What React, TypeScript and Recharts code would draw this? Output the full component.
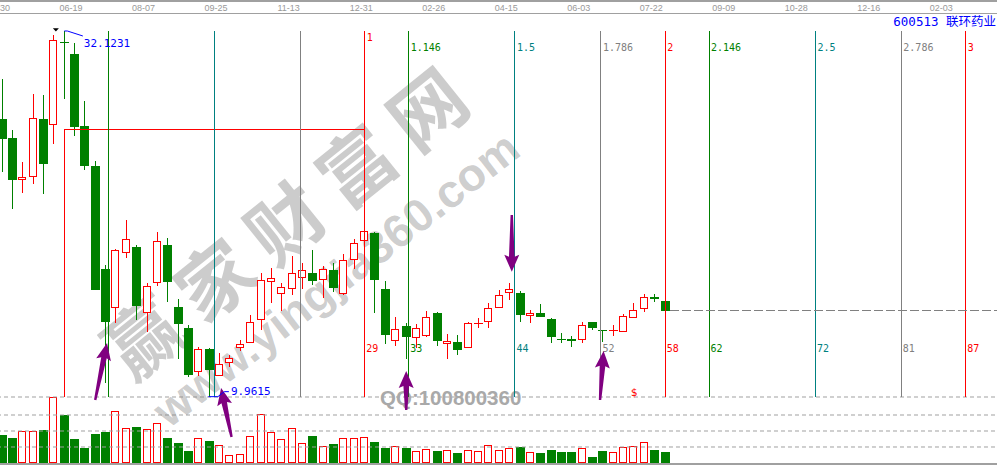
import React from 'react';
import { ComposedChart, Bar, XAxis, YAxis, ReferenceLine, ReferenceDot } from 'recharts';

// weekly candles, week 0 is the top week (32.1231)
const FIRST_WEEK = -6;
const LAST_SLOT = 90;

const opens = [
  26.79, 25.64, 23.11, 23.32, 26.79, 26.47, 31.45, 30.75, 26.36, 23.96, 17.7, 15.38, 18.71,
  19.03, 15.07, 16.89, 19.15, 15.4, 14.12, 11.5, 12.85, 11.26, 12.04, 12.97, 13.26, 14.65,
  16.95, 16.23, 16.5, 17.19, 17.45, 17.07, 17.64, 16.23, 18.29, 19.44, 19.9, 16.49, 13.39,
  14.23, 13.52, 13.66, 15.03, 13.19, 13.27, 12.95, 14.42, 14.53, 15.38, 16.29, 16.23, 14.89,
  15.03, 14.69, 13.44, 13.46, 13.44, 14.49, 13.98, 13.97, 13.92, 14.77, 15.32, 16.0, 15.76,
];
const highs = [
  29.21, 26.12, 24.18, 28.3, 28.24, 31.88, 32.1231, 31.38, 27.88, 24.24, 17.94, 18.91, 20.67,
  19.17, 16.83, 19.94, 19.58, 15.88, 14.3, 12.97, 12.93, 12.61, 12.49, 13.4, 14.91, 17.46,
  17.74, 16.83, 18.49, 18.08, 18.85, 17.86, 18.04, 18.61, 19.54, 20.55, 19.96, 16.99, 14.79,
  14.44, 14.36, 15.15, 15.09, 13.76, 13.7, 14.48, 14.71, 15.66, 16.43, 16.85, 16.38, 15.21,
  15.58, 14.7, 13.8, 13.64, 14.47, 14.5, 13.99, 14.32, 14.95, 15.64, 16.17, 16.17, 16.02,
];
const lows = [
  23.58, 21.34, 22.3, 22.85, 22.26, 25.26, 28.0, 25.78, 23.72, 16.42, 10.79, 14.44, 18.38,
  14.62, 13.9, 16.67, 15.72, 12.23, 11.17, 11.23, 9.9615, 11.22, 11.78, 12.75, 13.22, 14.0,
  15.66, 15.17, 16.12, 16.5, 16.71, 15.96, 16.32, 16.14, 17.7, 19.2, 15.05, 13.15, 13.05,
  12.24, 12.91, 13.6, 13.05, 12.23, 12.5, 12.93, 14.1, 14.1, 15.36, 15.8, 14.47, 14.41,
  14.76, 13.23, 13.19, 12.99, 13.23, 13.98, 13.29, 13.66, 13.9, 14.75, 15.07, 15.68, 14.77,
];
const closes = [
  25.58, 23.09, 23.27, 26.79, 24.08, 31.56, 31.43, 26.32, 23.96, 16.44, 14.5, 18.85, 19.5,
  15.47, 16.65, 19.38, 16.93, 14.38, 11.29, 12.83, 11.59, 11.92, 12.29, 13.15, 14.47, 17.01,
  17.13, 16.59, 17.44, 17.58, 16.99, 17.68, 16.56, 18.22, 19.26, 19.98, 17.05, 13.72, 14.06,
  13.59, 14.12, 14.73, 13.35, 13.33, 12.81, 14.42, 14.46, 15.32, 16.1, 16.43, 14.89, 15.01,
  14.77, 13.56, 13.42, 13.35, 14.29, 14.14, 13.97, 13.99, 14.83, 15.21, 16.0, 15.86, 15.17,
];
const volumes = [
  28, 25, 31.7, 31.7, 33, 65.7, 48, 24, 15, 29, 31, 51.7, 34.7, 36, 33.7, 39.7, 25, 20, 12,
  24.7, 22, 17.7, 7.7, 8.7, 26.7, 49, 30.7, 23.7, 34.7, 19.7, 27, 16.7, 19, 24.7, 24.7, 25.7,
  21, 15, 16.7, 15, 11.7, 13.7, 12, 12.7, 10, 12.7, 11.7, 17.7, 12.7, 14.7, 16, 10.7, 10, 13,
  11, 11, 15.3, 6, 12, 10.7, 15.7, 16.7, 20.7, 13, 11,
];

const dateTickWeeks = [-7, 0, 7, 14, 21, 28, 35, 42, 49, 56, 63, 70, 77, 84];
const dateLabels = [
  '04-30', '06-19', '08-07', '09-25', '11-13', '12-31', '02-26',
  '04-15', '06-03', '07-22', '09-09', '10-28', '12-16', '02-03',
];

const fibBase = 29;
const fibRatios = [0.146, 0.5, 0.786, 1, 1.146, 1.5, 1.786, 2, 2.146, 2.5, 2.786, 3];
const fibLabels = ['', '', '', '1', '1.146', '1.5', '1.786', '2', '2.146', '2.5', '2.786', '3'];
const fibCounts = [null, null, null, 29, 33, 44, 52, 58, 62, 72, 81, 87];

const guideLevel = 26.18;
const volGrid = [16, 32, 48, 66];

// hand drawn arrows: [week, price] tail -> tip
const arrowFrom = [[2.98, 9.76], [16.14, 7.52], [33.0, 9.15], [43.19, 20.97], [51.71, 9.76]];
const arrowTo = [[4.12, 13.21], [15.13, 10.49], [33.0, 11.52], [43.19, 17.53], [52.05, 12.73]];
const dollarWeek = 55;

const RED = '#ff0000';
const GREEN = '#008000';
const TEAL = '#008080';
const GRAY = '#808080';
const BLUE = '#0000ff';
const PURPLE = '#800080';
const MONO = "'DejaVu Sans Mono', monospace";
const SANS = "'Liberation Sans', Arial, sans-serif";

const SLOT = 10.36;
const SLOTS = LAST_SLOT - FIRST_WEEK + 1;
const CHART_W = SLOTS * SLOT;
const CHART_LEFT = 64.8 - (0 - FIRST_WEEK + 0.5) * SLOT;
const PRICE_MIN = 9.941;
const PRICE_MAX = 33.153;

const rows = Array.from({ length: SLOTS }, (_, k) => {
  const i = FIRST_WEEK + k;
  if (k >= opens.length) return { i };
  return {
    i,
    open: opens[k],
    high: highs[k],
    low: lows[k],
    close: closes[k],
    range: [lows[k], highs[k]],
    vol: volumes[k],
  };
});

const maxHigh = Math.max(...highs);
const minLow = Math.min(...lows);
const topWeek = FIRST_WEEK + highs.indexOf(maxHigh);
const lowWeek = FIRST_WEEK + lows.indexOf(minLow);
const lastWeek = FIRST_WEEK + opens.length - 1;
const lastClose = closes[closes.length - 1];

const fibColor = (r: number) => {
  const f = Math.round((r % 1) * 1000);
  if (f === 146) return GREEN;
  if (f === 500) return TEAL;
  if (f === 786) return GRAY;
  return RED;
};

const Candle = (props: any) => {
  const { x, y, width, height, payload } = props;
  if (!payload || payload.open == null || !isFinite(y)) return null;
  const { open, close, high, low } = payload;
  const c = Math.floor(x + width / 2);
  const wx = c + 0.5;
  const k = height / (high - low);
  const yo = y + (high - open) * k;
  const yc = y + (high - close) * k;
  const up = close >= open;
  const col = up ? RED : GREEN;
  const top = Math.min(yo, yc);
  const bot = Math.max(yo, yc);
  if (bot - top < 1.5) {
    const m = Math.round((top + bot) / 2) + 0.5;
    return (
      <g shapeRendering="crispEdges">
        <line x1={wx} x2={wx} y1={y} y2={y + height} stroke={col} />
        <line x1={c - 4} x2={c + 5} y1={m} y2={m} stroke={col} />
      </g>
    );
  }
  if (up) {
    return (
      <g shapeRendering="crispEdges">
        <line x1={wx} x2={wx} y1={y} y2={top} stroke={col} />
        <line x1={wx} x2={wx} y1={bot} y2={y + height} stroke={col} />
        <rect x={c - 3.5} y={top} width={7} height={bot - top} fill="#fff" stroke={col} />
      </g>
    );
  }
  return (
    <g shapeRendering="crispEdges">
      <line x1={wx} x2={wx} y1={y} y2={y + height} stroke={col} />
      <rect x={c - 4} y={top} width={9} height={bot - top} fill={col} />
    </g>
  );
};

const VolBar = (props: any) => {
  const { x, y, width, height, payload } = props;
  if (!payload || payload.vol == null || !isFinite(y)) return null;
  const c = Math.floor(x + width / 2);
  if (payload.close >= payload.open) {
    return (
      <rect x={c - 3.5} y={y + 0.5} width={7} height={Math.max(height - 1, 0)}
        fill="#fff" stroke={RED} shapeRendering="crispEdges" />
    );
  }
  return <rect x={c - 4} y={y} width={9} height={height} fill={GREEN} shapeRendering="crispEdges" />;
};

const DateTick = (props: any) => {
  const { x, index } = props;
  return (
    <text x={x + SLOT * 0.65} y={11} textAnchor="middle" fontSize={9} fill="#999999" fontFamily={SANS}>
      {dateLabels[index]}
    </text>
  );
};

const CrispLine = (p: any) => (
  <line x1={p.x1} y1={p.y1} x2={p.x2} y2={p.y2} stroke={p.stroke}
    strokeDasharray={p.strokeDasharray} shapeRendering="crispEdges" />
);

const Arrow = (p: any) => {
  const { x1, y1, x2, y2 } = p;
  const dx = x2 - x1;
  const dy = y2 - y1;
  const len = Math.hypot(dx, dy) || 1;
  const ux = dx / len;
  const uy = dy / len;
  const nx = -uy;
  const ny = ux;
  const head = 15;
  const hw = 7.5;
  const bx = x2 - ux * head;
  const by = y2 - uy * head;
  const pts = [
    [x1 + nx * 1.2, y1 + ny * 1.2],
    [bx + nx * 2.8, by + ny * 2.8],
    [bx + nx * hw - ux * 2, by + ny * hw - uy * 2],
    [x2, y2],
    [bx - nx * hw - ux * 2, by - ny * hw - uy * 2],
    [bx - nx * 2.8, by - ny * 2.8],
    [x1 - nx * 1.2, y1 - ny * 1.2],
  ];
  return <polygon points={pts.map((q) => q.join(',')).join(' ')} fill={PURPLE} />;
};

const makeFibLine = (col: string, label: string, count: number | null, raise: boolean) => (p: any) => {
  const { x1, y1, x2, y2 } = p;
  return (
    <g>
      <line x1={x1} y1={y1} x2={x2} y2={y2} stroke={col} shapeRendering="crispEdges" />
      {label && (
        <text x={x1 + 2} y={y1 + (raise ? 10 : 20)} fontSize={10} fill={col} fontFamily={MONO}>
          {label}
        </text>
      )}
      {count != null && (
        <text x={x1 + 1.5} y={y2 - 45} fontSize={10} fill={col} fontFamily={MONO}>
          {count}
        </text>
      )}
    </g>
  );
};

const HighLabel = (p: any) => {
  const { cx, cy } = p;
  return (
    <g>
      <polyline points={`${cx},${cy} ${cx + 3},${cy} ${cx + 18.5},${cy + 5}`} fill="none" stroke={BLUE} />
      <text x={cx + 19.5} y={cy + 16.3} fontSize={11} fill={BLUE} fontFamily={MONO}>
        {maxHigh.toFixed(4)}
      </text>
    </g>
  );
};

const LowLabel = (p: any) => {
  const { cx, cy } = p;
  return (
    <g>
      <polyline points={`${cx - 1},${cy} ${cx + 8.5},${cy} ${cx + 15},${cy - 5} ${cx + 19.5},${cy - 5}`}
        fill="none" stroke={BLUE} />
      <text x={cx + 21.5} y={cy - 1.5} fontSize={11} fill={BLUE} fontFamily={MONO}>
        {minLow.toFixed(4)}
      </text>
    </g>
  );
};

const TopMark = (p: any) => {
  const { cx, cy } = p;
  return <polygon points={`${cx - 1.1},${cy - 6.7} ${cx + 4.9},${cy - 6.7} ${cx + 1.9},${cy - 3.4}`} fill="#000" />;
};

const DollarMark = (p: any) => {
  const { cx, cy } = p;
  return (
    <text x={cx} y={cy - 1} textAnchor="middle" fontSize={11} fill={RED} fontFamily={MONO}>$</text>
  );
};

export default function App() {
  return (
    <div style={{ position: 'relative', width: 997, height: 468, overflow: 'hidden', background: '#fff' }}>
      <style>{'body{margin:0}'}</style>

      <div style={{ position: 'absolute', left: CHART_LEFT, top: 396 }}>
        <ComposedChart width={CHART_W} height={69} data={rows}
          margin={{ top: 1, right: 0, bottom: 2, left: 0 }} barCategoryGap={0} barGap={0}>
          <XAxis xAxisId="c" dataKey="i" type="category" hide />
          <YAxis yAxisId="v" hide domain={[0, 66]} allowDataOverflow />
          {volGrid.map((v) => (
            <ReferenceLine key={v} xAxisId="c" yAxisId="v" y={v} stroke="#a0a0a0"
              strokeDasharray="4 3" ifOverflow="visible" />
          ))}
          <Bar xAxisId="c" yAxisId="v" dataKey="vol" shape={<VolBar />} isAnimationActive={false} />
        </ComposedChart>
      </div>

      <svg width={997} height={468} style={{ position: 'absolute', left: 0, top: 0 }}>
        <rect x={0} y={0} width={997} height={2} fill="#a0a0a0" />
        <rect x={0} y={13} width={997} height={1} fill="#a0a0a0" />
        <rect x={0} y={463} width={997} height={2} fill="#a0a0a0" />
        <text x={996} y={25.5} textAnchor="end" fontSize={12.5} fill={BLUE}
          fontFamily="'DejaVu Sans Mono', 'Noto Sans CJK SC', sans-serif">
          600513 联环药业
        </text>
        <text x={291} y={220} transform="rotate(-38.8 283 220)" textAnchor="middle"
          dominantBaseline="central" fontSize={75} fontWeight={700} letterSpacing={16}
          fill="#808080" fillOpacity={0.4} fontFamily="'Noto Sans CJK SC', sans-serif">
          赢家财富网
        </text>
        <text x={336} y={279} transform="rotate(-37.8 336 279)" textAnchor="middle"
          dominantBaseline="central" fontSize={46} fontWeight={700}
          fill="#808080" fillOpacity={0.4} fontFamily={SANS}>
          www.yingjia360.com
        </text>
        <text x={380} y={405} fontSize={20.5} fontWeight={700} fill="#a9a9a9" fontFamily={SANS}>
          QQ:100800360
        </text>
      </svg>

      <div style={{ position: 'absolute', left: CHART_LEFT, top: 0 }}>
        <ComposedChart width={CHART_W} height={468} data={rows}
          margin={{ top: 0, right: 0, bottom: 71, left: 0 }} barCategoryGap={0} barGap={0}>
          <XAxis xAxisId="c" dataKey="i" type="category" hide />
          <XAxis xAxisId="n" dataKey="i" type="number" orientation="top"
            domain={[FIRST_WEEK - 0.5, LAST_SLOT + 0.5]}
            allowDataOverflow ticks={dateTickWeeks} interval={0} tick={<DateTick />}
            tickLine={false} axisLine={false} height={14} />
          <YAxis yAxisId="p" hide domain={[PRICE_MIN, PRICE_MAX]} allowDataOverflow />

          <Bar xAxisId="c" yAxisId="p" dataKey="range" shape={<Candle />} isAnimationActive={false} />

          <ReferenceLine xAxisId="n" yAxisId="p" ifOverflow="visible" stroke={RED} shape={<CrispLine />}
            segment={[{ x: topWeek, y: guideLevel }, { x: topWeek, y: PRICE_MIN }]} />
          <ReferenceLine xAxisId="n" yAxisId="p" ifOverflow="visible" stroke={RED} shape={<CrispLine />}
            segment={[{ x: topWeek, y: guideLevel }, { x: topWeek + fibBase, y: guideLevel }]} />
          {fibRatios.map((r, n) => {
            const pos = topWeek + fibBase * r;
            const col = fibColor(r);
            return (
              <ReferenceLine key={r} xAxisId="n" yAxisId="p" ifOverflow="visible" stroke={col}
                segment={[{ x: pos, y: maxHigh }, { x: pos, y: PRICE_MIN }]}
                shape={makeFibLine(col, fibLabels[n], fibCounts[n], r === 1)} />
            );
          })}
          <ReferenceLine xAxisId="n" yAxisId="p" ifOverflow="visible" stroke={GRAY} strokeDasharray="9 3"
            shape={<CrispLine />}
            segment={[{ x: lastWeek + 0.45, y: lastClose }, { x: LAST_SLOT + 0.5, y: lastClose }]} />

          <ReferenceDot xAxisId="n" yAxisId="p" x={topWeek} y={maxHigh} ifOverflow="visible" shape={<HighLabel />} />
          <ReferenceDot xAxisId="n" yAxisId="p" x={lowWeek} y={minLow} ifOverflow="visible" shape={<LowLabel />} />
          <ReferenceDot xAxisId="n" yAxisId="p" x={topWeek - 1} y={highs[highs.indexOf(maxHigh) - 1]}
            ifOverflow="visible" shape={<TopMark />} />
          <ReferenceDot xAxisId="n" yAxisId="p" x={dollarWeek} y={PRICE_MIN} ifOverflow="visible"
            shape={<DollarMark />} />

          {arrowFrom.map((f, n) => (
            <ReferenceLine key={'a' + n} xAxisId="n" yAxisId="p" ifOverflow="visible"
              segment={[{ x: f[0], y: f[1] }, { x: arrowTo[n][0], y: arrowTo[n][1] }]}
              shape={<Arrow />} />
          ))}
        </ComposedChart>
      </div>
    </div>
  );
}
